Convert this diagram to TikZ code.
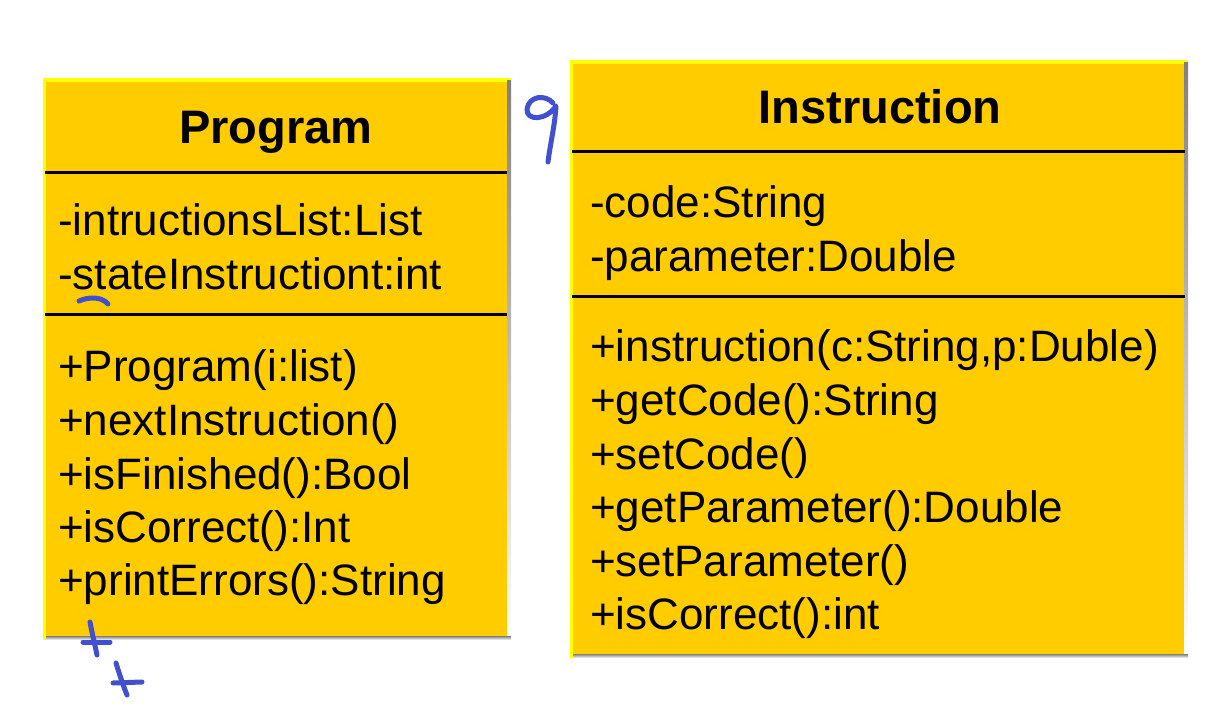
\documentclass[tikz,border=0pt]{standalone}
\usepackage{fontspec}
\setmainfont{Liberation Sans}
\definecolor{boxfill}{HTML}{FFCC00}
\definecolor{hilite}{HTML}{FFFF00}
\definecolor{shade}{HTML}{B8960A}
\definecolor{ink}{HTML}{4050D0}
\tikzset{
  title/.style={font=\bfseries\fontsize{47}{51}\selectfont, anchor=base, inner sep=0pt},
  item/.style={font=\fontsize{44}{48}\selectfont, anchor=base west, inner sep=0pt},
  sep/.style={line width=3pt, black},
  pen/.style={ink, line width=5pt, line cap=round, line join=round}
}
\newcommand{\umlbox}[4]{% x1 y1 x2 y2
  \fill[boxfill] (#1,#2) rectangle (#3,#4);
  \fill[hilite] (#1,#2) rectangle (#3,#2+4);
  \fill[hilite] (#1,#2) rectangle (#1+3,#4);
  \fill[shade] (#3-4,#2+2) rectangle (#3,#4);
  \fill[shade] (#1+3,#4-4) rectangle (#3,#4);
}
\begin{document}
\begin{tikzpicture}[x=1pt,y=-1pt]
\useasboundingbox (0,0) rectangle (1232,720);
% Program
\umlbox{43}{78}{511}{640}
\draw[sep] (45,172) -- (507,172);
\draw[sep] (45,314) -- (507,314);
\node[title] (ptitle) at (276,143) {Program};
\node[item] (pa1) at (58,235) {-intructionsList:List};
\node[item] (pa2) at (58,289) {-stateInstructiont:int};
\node[item] (pm1) at (58,381) {+Program(i:list)};
\node[item] (pm2) at (58,435) {+nextInstruction()};
\node[item] (pm3) at (58,489) {+isFinished():Bool};
\node[item] (pm4) at (58,542) {+isCorrect():Int};
\node[item] (pm5) at (58,595) {+printErrors():String};
% Instruction
\umlbox{570}{60}{1188}{658}
\draw[sep] (572,151) -- (1185,151);
\draw[sep] (572,296) -- (1185,296);
\node[title] (ititle) at (880,123) {Instruction};
\node[item] (ia1) at (590,217) {-code:String};
\node[item] (ia2) at (590,271) {-parameter:Double};
\node[item] (im1) at (590,361) {+instruction(c:String,p:Duble)};
\node[item] (im2) at (590,415) {+getCode():String};
\node[item] (im3) at (590,469) {+setCode()};
\node[item] (im4) at (590,522) {+getParameter():Double};
\node[item] (im5) at (590,576) {+setParameter()};
\node[item] (im6) at (590,629) {+isCorrect():int};
% handwritten marks
\draw[pen] (553,103) .. controls (545,94) and (529,96) .. (527,109)
  .. controls (526,121) and (546,121) .. (556,106)
  .. controls (555,125) and (550,145) .. (548,162);
\draw[pen] (79,301) .. controls (88,297) and (101,296) .. (108,304);
\draw[pen] (90,622) .. controls (92,633) and (95,645) .. (97,655);
\draw[pen] (83,642) -- (110,642);
\draw[pen] (116,663) .. controls (119,673) and (123,685) .. (127,695);
\draw[pen] (113,683) -- (142,682);
\end{tikzpicture}
\end{document}
